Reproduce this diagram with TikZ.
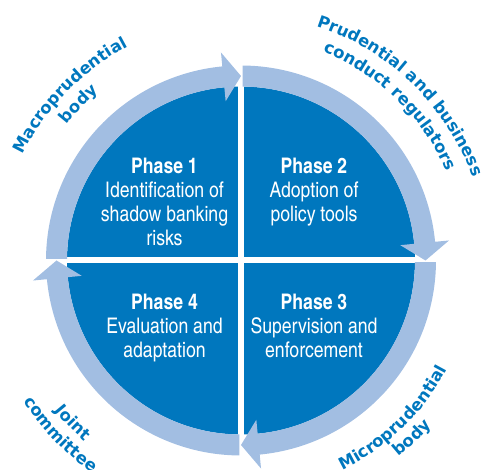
\documentclass[tikz,border=0pt]{standalone}
\usepackage{fontspec}
\usetikzlibrary{decorations.text}
\newfontfamily\phasefont{texgyreheroscn}[Extension=.otf,UprightFont=*-regular,BoldFont=*-bold]
\newfontfamily\bodyfont{DejaVu Sans Bold}
\definecolor{phaseblue}{RGB}{0,119,190}
\definecolor{ringblue}{RGB}{162,190,226}
\tikzset{
  phase/.style={text=white,align=center,inner sep=0pt,anchor=base,
    font=\phasefont\fontsize{21.5}{24}\selectfont},
  ringseg/.style={fill=ringblue},
  curved label/.style={decorate,decoration={text along path,text align=center,
    text={|\bodyfont\fontsize{16.5}{18}\selectfont\color{phaseblue}|#1}}},
}

\begin{document}
\begin{tikzpicture}[x=1pt,y=1pt]
  \useasboundingbox (-241,-209.5) rectangle (241,260.5);
  % disk split in four phases
  \fill[phaseblue] (0,0) circle[radius=174];
  \draw[white,line width=6pt] (-175,0) -- (175,0) (0,-175) -- (0,175);
  % ring of arrows, clockwise
  \foreach \a in {180,90,0,-90}{
    \fill[ringseg] (\a-0.5:195) arc[start angle=\a-0.5,end angle=\a-84.5,radius=195]
      -- (\a-84.5:209) -- (\a-90:184.5) -- (\a-84.5:160) -- (\a-84.5:174)
      arc[start angle=\a-84.5,end angle=\a-0.5,radius=174] -- cycle;
  }
  % base is the last line
  \node[phase] (p1) at (-76.5,14.5) {\textbf{Phase 1}\\Identification of\\shadow banking\\risks};
  \node[phase] (p2) at (73,38.5) {\textbf{Phase 2}\\Adoption of\\policy tools};
  \node[phase] (p3) at (73,-97.5) {\textbf{Phase 3}\\Supervision and\\enforcement};
  \node[phase] (p4) at (-76.5,-97.5) {\textbf{Phase 4}\\Evaluation and\\adaptation};
  % bodies round the cycle
  \path[curved label=Macroprudential] (181:242) arc[start angle=181,end angle=91,radius=242];
  \path[curved label=body] (181:221) arc[start angle=181,end angle=91,radius=221];
  \path[curved label={Prudential and business}] (91:246) arc[start angle=91,end angle=1,radius=246];
  \path[curved label={conduct regulators}] (91:224) arc[start angle=91,end angle=1,radius=224];
  \path[curved label=Microprudential] (-91:233) arc[start angle=-91,end angle=-1,radius=233];
  \path[curved label=body] (-91:252) arc[start angle=-91,end angle=-1,radius=252];
  \path[curved label=Joint] (-181:239) arc[start angle=-181,end angle=-91,radius=239];
  \path[curved label=committee] (-181:259) arc[start angle=-181,end angle=-91,radius=259];
\end{tikzpicture}
\end{document}
